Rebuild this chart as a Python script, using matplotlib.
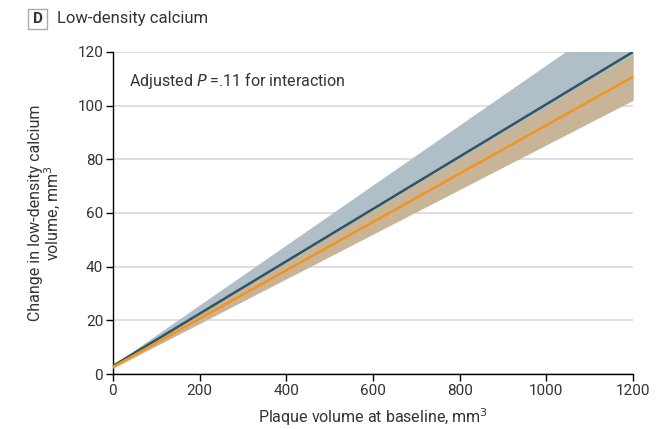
import matplotlib.pyplot as plt
from matplotlib.patches import FancyBboxPatch

plt.rcParams["font.family"] = ["Roboto", "DejaVu Sans"]

# baseline plaque volume (mm3)
baseline = [0, 1200]

# reference group (dark line, gray-blue band)
ref_mean = [3.0, 120.0]
ref_low = [2.6, 102.5]
ref_high = [3.4, 137.5]

# comparison group (orange line, tan band)
cmp_mean = [2.6, 110.7]
cmp_low = [2.2, 102.0]
cmp_high = [3.0, 119.0]

yticks = [0, 20, 40, 60, 80, 100, 120]
xticks = [0, 200, 400, 600, 800, 1000, 1200]

fig = plt.figure(figsize=(6.72, 4.29), dpi=100)
ax = fig.add_axes([0.168, 0.128, 0.774, 0.751])

ax.fill_between(baseline, ref_low, ref_high, color="#b0bec8", lw=0, zorder=2)
ax.fill_between(baseline, cmp_low, cmp_high, color="#c8b598", lw=0, zorder=3)
ax.plot(baseline, ref_mean, color="#2d5564", lw=1.8, zorder=5)
ax.plot(baseline, cmp_mean, color="#f39320", lw=1.8, zorder=5)

ax.set_xlim(0, 1200)
ax.set_ylim(0, 120)
ax.set_xticks(xticks)
ax.set_yticks(yticks)
ax.grid(axis="y", color="#d9d9d9", lw=1.2, zorder=0)
ax.set_axisbelow(True)
for s in ["top", "right"]:
    ax.spines[s].set_visible(False)
for s in ["left", "bottom"]:
    ax.spines[s].set_color("black")
    ax.spines[s].set_linewidth(1.0)
ax.tick_params(length=5, width=1.0, color="black", labelsize=11, labelcolor="#333333", pad=2)

ax.set_xlabel("Plaque volume at baseline, mm$^3$", fontsize=11.5, color="#333333", labelpad=6)
ax.set_ylabel("Change in low-density calcium\nvolume, mm$^3$", fontsize=11.5, color="#333333",
              labelpad=10, linespacing=1.0)

ax.text(37, 109.5, "Adjusted $P$ =.11 for interaction", fontsize=11.5, color="#333333",
        va="center", ha="left")

# panel label
box = FancyBboxPatch((28 / 672, 1 - 29 / 429), 19 / 672, 20 / 429, boxstyle="square,pad=0",
                     transform=fig.transFigure, fc="white", ec="#aaaaaa", lw=1.0)
fig.patches.append(box)
fig.text(37.5 / 672, 1 - 19 / 429, "D", fontsize=11, fontweight="bold", color="#333333",
         ha="center", va="center")
fig.text(57 / 672, 1 - 18 / 429, "Low-density calcium", fontsize=12, color="#333333",
         ha="left", va="center")

fig.savefig("out.png", dpi=100)
